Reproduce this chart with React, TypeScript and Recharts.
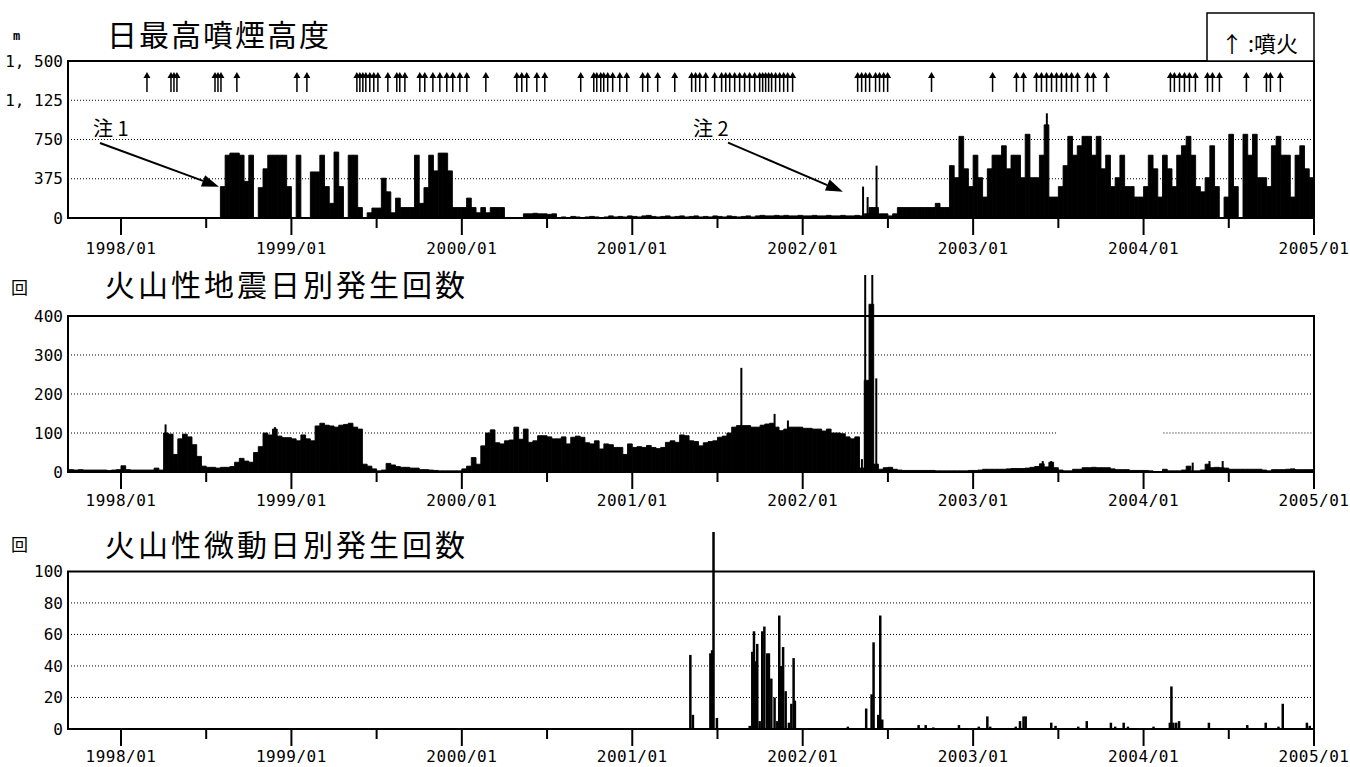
import React from "react";
import { ComposedChart, Bar, Scatter, XAxis, YAxis, ReferenceLine, ReferenceArea } from "recharts";

// months counted from 1998/01; values binned in 10-day steps from 1997/09/11
const X_MIN = -3.73;
const X_MAX = 84;
const BIN_START = -11 / 3;
const BIN_STEP = 1 / 3;

const yearLabels = ["1998/01", "1999/01", "2000/01", "2001/01", "2002/01", "2003/01", "2004/01", "2005/01"];
const monthTicks = [0, 6, 12, 18, 24, 30, 36, 42, 48, 54, 60, 66, 72, 78, 84];

// 日最高噴煙高度 (m)
const smokeTicks = [0, 375, 750, 1125, 1500];
const smokeTickLabels = ["0", "375", "750", "1, 125", "1, 500"];
const smokeBins = [
  0, 0, 0, 0, 0, 0, 0, 0, 0, 0,
  0, 0, 0, 0, 0, 0, 0, 0, 0, 0,
  0, 0, 0, 0, 0, 0, 0, 0, 0, 0,
  0, 0, 300, 600, 620, 620, 600, 350, 600, 0,
  290, 470, 600, 600, 600, 600, 300, 0, 600, 0,
  0, 440, 440, 600, 300, 140, 630, 300, 0, 600,
  600, 100, 0, 50, 95, 95, 380, 250, 50, 190,
  100, 100, 100, 600, 140, 290, 600, 450, 620, 620,
  450, 100, 100, 100, 190, 100, 50, 100, 50, 100,
  100, 100, 0, 0, 0, 0, 40, 40, 45, 40,
  40, 35, 40, 0, 10, 0, 15, 10, 0, 10,
  15, 10, 0, 10, 20, 10, 15, 10, 20, 15,
  10, 20, 25, 15, 10, 15, 20, 10, 15, 20,
  10, 15, 20, 10, 15, 10, 20, 15, 10, 20,
  15, 10, 15, 20, 10, 20, 25, 20, 20, 25,
  20, 25, 20, 20, 25, 20, 20, 25, 20, 20,
  25, 20, 20, 25, 20, 20, 25, 20, 40, 100,
  100, 40, 40, 20, 40, 100, 100, 100, 100, 100,
  100, 100, 100, 140, 100, 100, 500, 385, 780, 470,
  300, 600, 385, 200, 470, 600, 600, 690, 470, 600,
  600, 385, 800, 385, 385, 600, 890, 200, 200, 300,
  500, 780, 600, 690, 780, 780, 600, 780, 470, 600,
  300, 385, 600, 300, 300, 200, 200, 300, 600, 470,
  200, 600, 470, 300, 600, 690, 780, 600, 300, 250,
  385, 690, 300, 0, 200, 800, 300, 0, 800, 600,
  800, 385, 385, 300, 690, 780, 600, 600, 200, 600,
  690, 470, 385,
];
const smokeSpikes: [number, number][] = [[52.25, 300], [52.57, 200], [53.2, 500], [65.19, 1000]];

// 噴火 (eruption dates, months from 1998/01)
const eruptionMonths = [
  1.83, 3.52, 3.73, 3.94, 6.62, 6.83, 7.04, 8.16, 12.39, 13.09,
  16.61, 16.82, 17.03, 17.24, 17.52, 17.8, 18.09, 18.79, 19.42, 19.63,
  19.99, 21.04, 21.39, 21.96, 22.45, 22.94, 23.36, 23.86, 24.35, 25.69,
  27.87, 28.22, 28.57, 29.28, 29.84, 32.37, 33.29, 33.5, 33.78, 33.99,
  34.27, 34.62, 35.12, 35.61, 36.73, 37.09, 37.79, 38.99, 40.18, 40.46,
  40.75, 41.17, 41.8, 42.29, 42.58, 42.86, 43.21, 43.56, 43.91, 44.26,
  44.62, 44.97, 45.18, 45.39, 45.6, 45.81, 46.09, 46.38, 46.66, 46.94,
  47.29, 51.87, 52.15, 52.43, 52.71, 53.13, 53.41, 53.7, 53.98, 57.07,
  61.37, 63.05, 63.55, 64.46, 64.81, 65.17, 65.52, 65.87, 66.22, 66.57,
  66.93, 67.35, 68.05, 68.47, 69.39, 73.89, 74.17, 74.53, 74.88, 75.23,
  75.65, 76.5, 76.85, 77.34, 79.24, 80.65, 80.93, 81.63,
];

// 火山性地震日別発生回数
const quakeTicks = [0, 100, 200, 300, 400];
const quakeBins = [
  6, 5, 6, 5, 5, 5, 5, 5, 4, 5,
  6, 16, 6, 5, 5, 5, 5, 5, 10, 5,
  100, 97, 45, 85, 97, 90, 70, 40, 15, 12,
  12, 10, 12, 12, 14, 25, 35, 28, 25, 50,
  65, 100, 95, 110, 92, 88, 88, 85, 80, 95,
  85, 80, 118, 125, 120, 118, 115, 120, 122, 125,
  115, 110, 20, 15, 8, 3, 5, 22, 18, 14,
  12, 12, 10, 10, 6, 6, 5, 4, 3, 3,
  3, 3, 3, 8, 15, 37, 20, 67, 100, 108,
  75, 72, 80, 82, 115, 84, 110, 76, 80, 93,
  93, 90, 85, 85, 90, 72, 89, 92, 89, 75,
  72, 80, 59, 72, 70, 63, 63, 45, 72, 63,
  65, 63, 68, 63, 60, 63, 76, 80, 76, 95,
  93, 80, 78, 67, 75, 78, 80, 89, 92, 100,
  115, 119, 119, 119, 115, 115, 120, 123, 125, 115,
  106, 110, 115, 115, 115, 112, 112, 110, 110, 105,
  110, 100, 100, 98, 90, 85, 90, 10, 235, 430,
  20, 7, 11, 12, 7, 5, 4, 4, 4, 4,
  4, 4, 4, 3, 3, 3, 3, 3, 3, 3,
  4, 4, 5, 7, 7, 7, 7, 7, 8, 9,
  9, 9, 10, 12, 14, 21, 13, 25, 11, 5,
  3, 3, 7, 7, 11, 11, 12, 11, 11, 11,
  8, 6, 6, 6, 4, 4, 4, 4, 3, 0,
  0, 7, 3, 3, 3, 5, 15, 3, 3, 5,
  20, 11, 12, 11, 10, 7, 7, 7, 7, 7,
  7, 7, 5, 3, 6, 6, 6, 7, 8, 6,
  6, 6, 6,
];
const quakeSpikes: [number, number][] = [
  [3.14, 122], [10.84, 115], [43.68, 267], [46.02, 149], [46.96, 132],
  [52.17, 33], [52.4, 520], [52.9, 520], [53.18, 240],
  [64.9, 28], [65.5, 28], [75.46, 24], [76.64, 28], [77.57, 28],
];

// 火山性微動日別発生回数
const tremorTicks = [0, 20, 40, 60, 80, 100];
const tremorSpikes: [number, number][] = [
  [40.09, 47], [40.27, 9], [41.5, 48], [41.62, 50], [41.72, 130], [41.96, 7],
  [44.27, 2], [44.45, 49], [44.57, 62], [44.68, 43], [44.8, 54], [44.97, 5],
  [45.15, 62], [45.3, 65], [45.5, 48], [45.62, 48], [45.79, 32], [46.02, 20], [46.21, 5],
  [46.35, 72], [46.48, 40], [46.62, 52], [46.8, 24], [47.03, 4], [47.2, 16], [47.36, 45], [47.45, 18],
  [51.18, 1.5], [52.47, 13], [52.85, 22], [52.99, 55], [53.32, 9], [53.46, 72], [53.6, 6],
  [56.16, 2.5], [56.66, 2.5], [57.2, 1], [59.0, 2.5], [60.4, 1.5], [61.0, 8], [61.2, 1.5],
  [63.0, 1.5], [63.3, 5], [63.55, 8], [63.7, 8], [65.5, 4], [65.8, 2], [67.4, 1.5], [68.0, 5],
  [69.7, 4], [70.0, 1.5], [70.6, 4], [70.9, 1.5], [72.7, 1.5], [73.85, 4], [73.96, 27], [74.1, 4],
  [74.3, 4], [74.5, 5], [76.6, 4], [79.3, 2.5], [80.6, 4], [81.5, 1.5], [81.8, 16], [83.5, 4], [83.7, 2],
];

const toBins = (vals: number[]) => vals.map((v, i) => ({ m: BIN_START + (i + 0.5) * BIN_STEP, v }));
const smokeData = toBins(smokeBins);
const quakeData = toBins(quakeBins);
const tremorData = tremorSpikes.map(([m, v]) => ({ m, v }));
const ARROW_LEVEL = 1300;
const eruptionPoints = eruptionMonths.map((m) => ({ m, y: ARROW_LEVEL }));

const monoFont = { fontFamily: "DejaVu Sans Mono", fontSize: 16, fill: "#000" };
const cjk = "Noto Sans CJK JP";
const W = 1350;
const MARGIN_R = 36;

const monthTick = (labelDy: number) => (props: any) => {
  const { x, y, payload } = props;
  const major = payload.value % 12 === 0;
  return (
    <g>
      <line x1={x} x2={x} y1={y} y2={y + (major ? 17 : 10)} stroke="#000" strokeWidth={2} />
      {major ? (
        <text x={x} y={y + labelDy} textAnchor="middle" {...monoFont} letterSpacing={0.5}>
          {yearLabels[payload.value / 12]}
        </text>
      ) : null}
    </g>
  );
};

const eruptionArrow = (props: any) => {
  const { cx, cy } = props;
  return (
    <g>
      <line x1={cx} x2={cx} y1={cy - 5} y2={cy + 10} stroke="#000" strokeWidth={1.5} />
      <polygon points={`${cx - 3.5},${cy - 4} ${cx + 3.5},${cy - 4} ${cx},${cy - 10}`} fill="#000" />
    </g>
  );
};

const noteArrow = (text: string, dx: number) => (p: any) => {
  const { x1, y1, x2, y2 } = p;
  const a = Math.atan2(y2 - y1, x2 - x1);
  const L = 17;
  const H = 6;
  const bx = x2 - L * Math.cos(a);
  const by = y2 - L * Math.sin(a);
  const pts = `${x2},${y2} ${bx + H * Math.sin(a)},${by - H * Math.cos(a)} ${bx - H * Math.sin(a)},${by + H * Math.cos(a)}`;
  return (
    <g>
      <line x1={x1} y1={y1} x2={bx} y2={by} stroke="#000" strokeWidth={2} />
      <polygon points={pts} fill="#000" />
      <text x={x1 + dx} y={y1 - 7} fontFamily={cjk} fontSize={20} fill="#000">{text}</text>
    </g>
  );
};

const gridLine = (v: number) => (
  <ReferenceLine key={`g${v}`} y={v} stroke="#000" strokeWidth={1} strokeDasharray="1 2" ifOverflow="visible" />
);

const spikeLine = (width: number) => ([m, v]: [number, number], i: number) => (
  <ReferenceLine
    key={`s${i}`}
    segment={[{ x: m, y: 0 }, { x: m, y: v }]}
    stroke="#000"
    strokeWidth={width}
    ifOverflow="hidden"
  />
);

const frame = (top: number) => (
  <ReferenceArea x1={X_MIN} x2={X_MAX} y1={0} y2={top} fill="none" stroke="#000" strokeWidth={2} ifOverflow="visible" />
);

export default function App() {
  return (
    <div style={{ position: "absolute", left: 0, top: 0, width: W, height: 767, background: "#fff", overflow: "hidden" }}>
      <div style={{ position: "absolute", left: 0, top: 0 }}>
        <ComposedChart width={W} height={260} data={smokeData} margin={{ top: 61, right: MARGIN_R, bottom: 0, left: 0 }}>
          <XAxis dataKey="m" type="number" domain={[X_MIN, X_MAX]} allowDataOverflow ticks={monthTicks} interval={0}
            height={42} tickSize={0} tickMargin={0} tickLine={false} axisLine={false} tick={monthTick(36)} />
          <XAxis xAxisId="arrows" dataKey="m" type="number" domain={[X_MIN, X_MAX]} allowDataOverflow hide />
          <YAxis type="number" domain={[0, 1500]} allowDataOverflow ticks={smokeTicks} interval={0} width={68}
            tickSize={0} tickMargin={5} tickLine={false} axisLine={false} tick={monoFont}
            tickFormatter={(v: number) => smokeTickLabels[smokeTicks.indexOf(v)]} />
          {[375, 750, 1125].map(gridLine)}
          <Bar dataKey="v" fill="#000" stroke="#000" strokeWidth={0.9} barSize={4.73} isAnimationActive={false} />
          {smokeSpikes.map(spikeLine(2))}
          <Scatter xAxisId="arrows" data={eruptionPoints} dataKey="y" shape={eruptionArrow} isAnimationActive={false} />
          <ReferenceLine segment={[{ x: -1.48, y: 717 }, { x: 6.9, y: 299 }]} ifOverflow="visible" shape={noteArrow("注 1", -7)} />
          <ReferenceLine segment={[{ x: 42.74, y: 720 }, { x: 50.83, y: 251 }]} ifOverflow="visible" shape={noteArrow("注 2", -35)} />
          {frame(1500)}
        </ComposedChart>
      </div>

      <div style={{ position: "absolute", left: 0, top: 250 }}>
        <ComposedChart width={W} height={264} data={quakeData} margin={{ top: 25, right: MARGIN_R, bottom: 0, left: 0 }}>
          <XAxis dataKey="m" type="number" domain={[X_MIN, X_MAX]} allowDataOverflow ticks={monthTicks} interval={0}
            height={42} tickSize={0} tickMargin={0} tickLine={false} axisLine={false} tick={monthTick(34)} />
          <YAxis type="number" domain={[0, 505]} allowDataOverflow ticks={quakeTicks} interval={0} width={68}
            tickSize={0} tickMargin={5} tickLine={false} axisLine={false} tick={monoFont} />
          {[200, 300].map(gridLine)}
          <ReferenceLine segment={[{ x: X_MIN, y: 100 }, { x: 65.94, y: 100 }]} stroke="#000" strokeDasharray="1 2" ifOverflow="visible" />
          <ReferenceLine segment={[{ x: 73.4, y: 100 }, { x: X_MAX, y: 100 }]} stroke="#000" strokeDasharray="1 2" ifOverflow="visible" />
          <Bar dataKey="v" fill="#000" stroke="#000" strokeWidth={0.9} barSize={4.73} isAnimationActive={false} />
          {quakeSpikes.map(spikeLine(2))}
          {frame(400)}
        </ComposedChart>
      </div>

      <div style={{ position: "absolute", left: 0, top: 510 }}>
        <ComposedChart width={W} height={257} data={tremorData} margin={{ top: 22, right: MARGIN_R, bottom: 0, left: 0 }}>
          <XAxis dataKey="m" type="number" domain={[X_MIN, X_MAX]} allowDataOverflow ticks={monthTicks} interval={0}
            height={38} tickSize={0} tickMargin={0} tickLine={false} axisLine={false} tick={monthTick(33)} />
          <YAxis type="number" domain={[0, 125]} allowDataOverflow ticks={tremorTicks} interval={0} width={68}
            tickSize={0} tickMargin={5} tickLine={false} axisLine={false} tick={monoFont} />
          {[20, 40, 60, 80].map(gridLine)}
          {tremorSpikes.map(spikeLine(2.5))}
          {frame(100)}
        </ComposedChart>
      </div>

      <svg width={W} height={767} style={{ position: "absolute", left: 0, top: 0, pointerEvents: "none" }}>
        <text x={13} y={40} fontFamily="DejaVu Sans Mono" fontSize={12} fontWeight="bold" fill="#000">m</text>
        <text x={107} y={46} fontFamily={cjk} fontSize={30} letterSpacing={2} fill="#000">日最高噴煙高度</text>
        <text x={11} y={294} fontFamily={cjk} fontSize={17} fill="#000">回</text>
        <text x={105} y={296} fontFamily={cjk} fontSize={30} letterSpacing={3} fill="#000">火山性地震日別発生回数</text>
        <text x={11} y={551} fontFamily={cjk} fontSize={17} fill="#000">回</text>
        <text x={105} y={556} fontFamily={cjk} fontSize={30} letterSpacing={3} fill="#000">火山性微動日別発生回数</text>
        <rect x={1207} y={13} width={107} height={48} fill="#fff" stroke="#000" strokeWidth={1.5} />
        <text x={1221} y={52} fontFamily={cjk} fontSize={22} fill="#000">↑ :噴火</text>
      </svg>
    </div>
  );
}
